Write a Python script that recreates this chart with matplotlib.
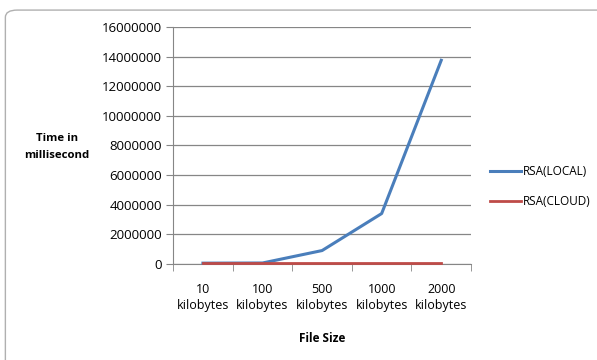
import matplotlib
matplotlib.use("Agg")
import matplotlib.pyplot as plt
from matplotlib.patches import FancyBboxPatch

categories = ["10\nkilobytes", "100\nkilobytes", "500\nkilobytes", "1000\nkilobytes", "2000\nkilobytes"]
rsa_local = [50000, 60000, 900000, 3400000, 13750000]
rsa_cloud = [60000, 60000, 60000, 60000, 60000]
yticks = [0, 2000000, 4000000, 6000000, 8000000, 10000000, 12000000, 14000000, 16000000]

plt.rcParams['font.family'] = ['Open Sans', 'DejaVu Sans']

fig = plt.figure(figsize=(5.97, 3.6), dpi=100)
fig.patch.set_facecolor('white')
border = FancyBboxPatch((0.009, -0.2), 1.2, 1.172, boxstyle="round,pad=0,rounding_size=0.02",
                        transform=fig.transFigure, fill=False, edgecolor='#b0b0b0', linewidth=1.0)
fig.patches.append(border)

ax = fig.add_axes([0.290, 0.267, 0.499, 0.658])
x = list(range(len(categories)))
ax.plot(x, rsa_local, color='#4a7ebb', linewidth=2.2, label='RSA(LOCAL)', zorder=3, clip_on=False)
ax.plot(x, rsa_cloud, color='#be4b48', linewidth=2.0, label='RSA(CLOUD)', zorder=4, clip_on=False)

ax.set_xlim(-0.5, len(categories) - 0.5)
ax.set_ylim(0, 16000000)
ax.set_yticks(yticks)
ax.set_yticklabels([str(v) for v in yticks], fontsize=9.5)
ax.set_xticks(x)
ax.set_xticklabels(categories, fontsize=9, linespacing=1.3)
ax.set_xticks([i - 0.5 for i in range(len(categories) + 1)], minor=True)
ax.tick_params(axis='x', which='major', length=0, pad=14)
ax.tick_params(axis='x', which='minor', length=5, color='#868686')
ax.tick_params(axis='y', length=5, color='#868686', pad=3)
ax.grid(axis='y', color='#868686', linewidth=0.9)
ax.set_axisbelow(True)
for s in ['top', 'right']:
    ax.spines[s].set_visible(False)
ax.spines['left'].set_color('#868686')
ax.spines['bottom'].set_color('#868686')

ax.set_xlabel('File Size', fontsize=8.5, fontweight='bold', labelpad=14)
fig.text(0.095, 0.592, 'Time in\nmillisecond', fontsize=8.2, fontweight='bold', ha='center', va='center', linespacing=1.7)

ax.legend(loc='center left', bbox_to_anchor=(1.064, 0.327), frameon=False, fontsize=8.5,
          handlelength=2.6, labelspacing=1.45, handletextpad=0.15, borderaxespad=0, borderpad=0)

fig.savefig('out.png', dpi=100)
